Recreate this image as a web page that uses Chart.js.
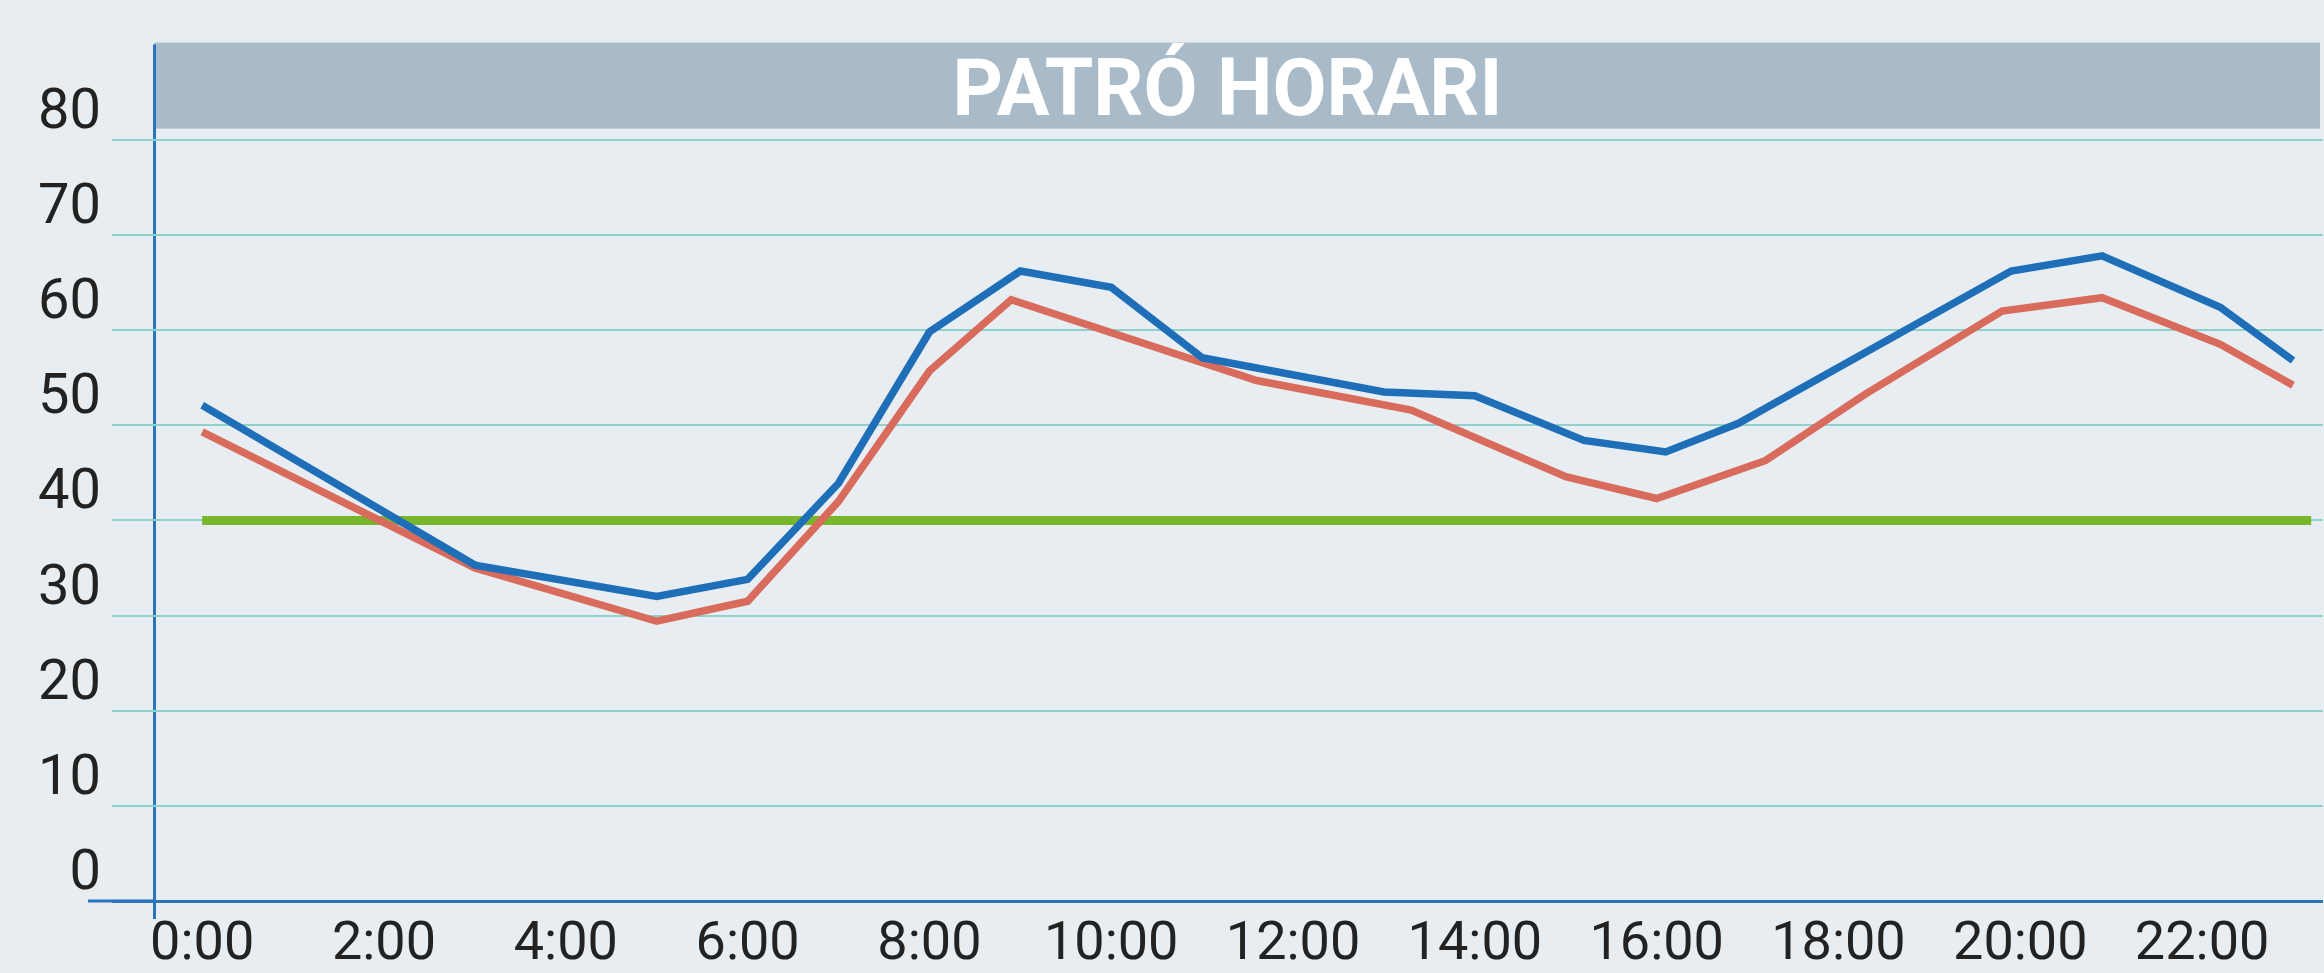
<!DOCTYPE html>
<html lang="ca">
<head>
    <meta charset="UTF-8">
    <title>Patró horari</title>
    <script src="https://cdn.jsdelivr.net/npm/chart.js"></script>
    <style>
        html, body {
            margin: 0;
            padding: 0;
            background: #e7edf1;
        }
        #patroChart {
            display: block;
        }
    </style>
</head>
<body>
    <canvas id="patroChart" width="2324" height="973"></canvas>
    <script>
        // data
        var chartTitle = 'PATRÓ HORARI';
        var hourTicks = [0, 2, 4, 6, 8, 10, 12, 14, 16, 18, 20, 22];
        var hourLabels = ['0:00', '2:00', '4:00', '6:00', '8:00', '10:00', '12:00', '14:00', '16:00', '18:00', '20:00', '22:00'];
        var valueTicks = [0, 10, 20, 30, 40, 50, 60, 70, 80];

        var blueHours = [0, 3, 5, 6, 7, 8, 9, 10, 11, 13, 14, 15.2, 16.1, 16.9, 19.9, 20.9, 22.2, 23];
        var blueValues = [52.1, 35.3, 32.0, 33.8, 43.9, 59.8, 66.2, 64.5, 57.1, 53.5, 53.1, 48.4, 47.2, 50.2, 66.2, 67.8, 62.4, 56.8];

        var redHours = [0, 3, 5, 6, 7, 8, 8.9, 11.6, 13.3, 15, 16, 17.2, 18.3, 19.8, 20.9, 22.2, 23];
        var redValues = [49.3, 35.0, 29.4, 31.5, 42.0, 55.7, 63.2, 54.7, 51.6, 44.6, 42.3, 46.3, 53.3, 62.0, 63.4, 58.5, 54.2];

        var limitHours = [0, 23.2];
        var limitValues = [40, 40];

        var xMin = -0.53, xMax = 23.33;
        var axisBlue = '#2a74be';
        var gridTeal = '#90d0cd';

        function toPoints(xs, ys) {
            return xs.map(function (x, i) { return { x: x, y: ys[i] }; });
        }

        // background, grey header band with the title, and the axis stub on the left
        var headerPlugin = {
            id: 'header',
            beforeDraw: function (chart) {
                var ctx = chart.ctx;
                var area = chart.chartArea;
                ctx.save();
                ctx.fillStyle = '#e7edf1';
                ctx.fillRect(0, 0, chart.width, chart.height);
                ctx.fillStyle = '#a9bbc9';
                ctx.fillRect(area.left, area.top - 2, area.right - area.left - 3, 86);
                ctx.font = 'bold 80px Roboto';
                ctx.fillStyle = '#ffffff';
                ctx.textAlign = 'center';
                ctx.textBaseline = 'alphabetic';
                ctx.translate((area.left + area.right) / 2 - 11, area.top + 70);
                ctx.scale(0.98, 1);
                ctx.fillText(chartTitle, 0, 0);
                ctx.restore();
            },
            afterDraw: function (chart) {
                var ctx = chart.ctx;
                var area = chart.chartArea;
                var y0 = chart.scales.y.getPixelForValue(0);
                ctx.save();
                ctx.strokeStyle = axisBlue;
                ctx.lineWidth = 3;
                ctx.beginPath();
                ctx.moveTo(area.left - 66, y0);
                ctx.lineTo(area.left, y0);
                ctx.stroke();
                ctx.restore();
            }
        };

        var ctx = document.getElementById('patroChart').getContext('2d');
        var patroChart = new Chart(ctx, {
            type: 'line',
            data: {
                datasets: [
                    { data: toPoints(blueHours, blueValues), borderColor: '#1f6fb8', borderWidth: 7.5 },
                    { data: toPoints(redHours, redValues), borderColor: '#d96b5c', borderWidth: 7.5 },
                    { data: toPoints(limitHours, limitValues), borderColor: '#78b72c', borderWidth: 9 }
                ]
            },
            options: {
                responsive: false,
                animation: false,
                elements: {
                    point: { radius: 0 },
                    line: { tension: 0, fill: false, borderJoinStyle: 'miter', borderCapStyle: 'butt' }
                },
                layout: { padding: { top: 41, right: 1, left: 0, bottom: 0 } },
                plugins: {
                    legend: { display: false },
                    title: { display: false },
                    tooltip: { enabled: false }
                },
                scales: {
                    x: {
                        type: 'linear',
                        min: xMin,
                        max: xMax,
                        afterBuildTicks: function (scale) {
                            scale.ticks = [{ value: xMin }].concat(hourTicks.map(function (v) { return { value: v }; }));
                        },
                        afterFit: function (scale) { scale.height = 72; },
                        border: { display: false },
                        grid: {
                            color: function (c) { return c.tick && c.tick.value === xMin ? axisBlue : 'rgba(0,0,0,0)'; },
                            lineWidth: 3,
                            tickLength: 18
                        },
                        ticks: {
                            autoSkip: false,
                            maxRotation: 0,
                            padding: -1,
                            color: '#222222',
                            font: { family: 'Roboto', size: 54, lineHeight: 1 },
                            callback: function (v) {
                                var i = hourTicks.indexOf(v);
                                return i < 0 ? '' : hourLabels[i];
                            }
                        }
                    },
                    y: {
                        min: 0,
                        max: 90,
                        afterBuildTicks: function (scale) {
                            scale.ticks = valueTicks.map(function (v) { return { value: v }; });
                        },
                        afterFit: function (scale) { scale.width = 154; },
                        border: { display: false },
                        grid: {
                            color: function (c) { return c.tick && c.tick.value === 0 ? axisBlue : gridTeal; },
                            lineWidth: function (c) { return c.tick && c.tick.value === 0 ? 3 : 2; },
                            tickLength: 42
                        },
                        ticks: {
                            padding: 11,
                            labelOffset: -26,
                            color: '#222222',
                            font: { family: 'Roboto', size: 56 }
                        }
                    }
                }
            },
            plugins: [headerPlugin]
        });
    </script>
</body>
</html>
